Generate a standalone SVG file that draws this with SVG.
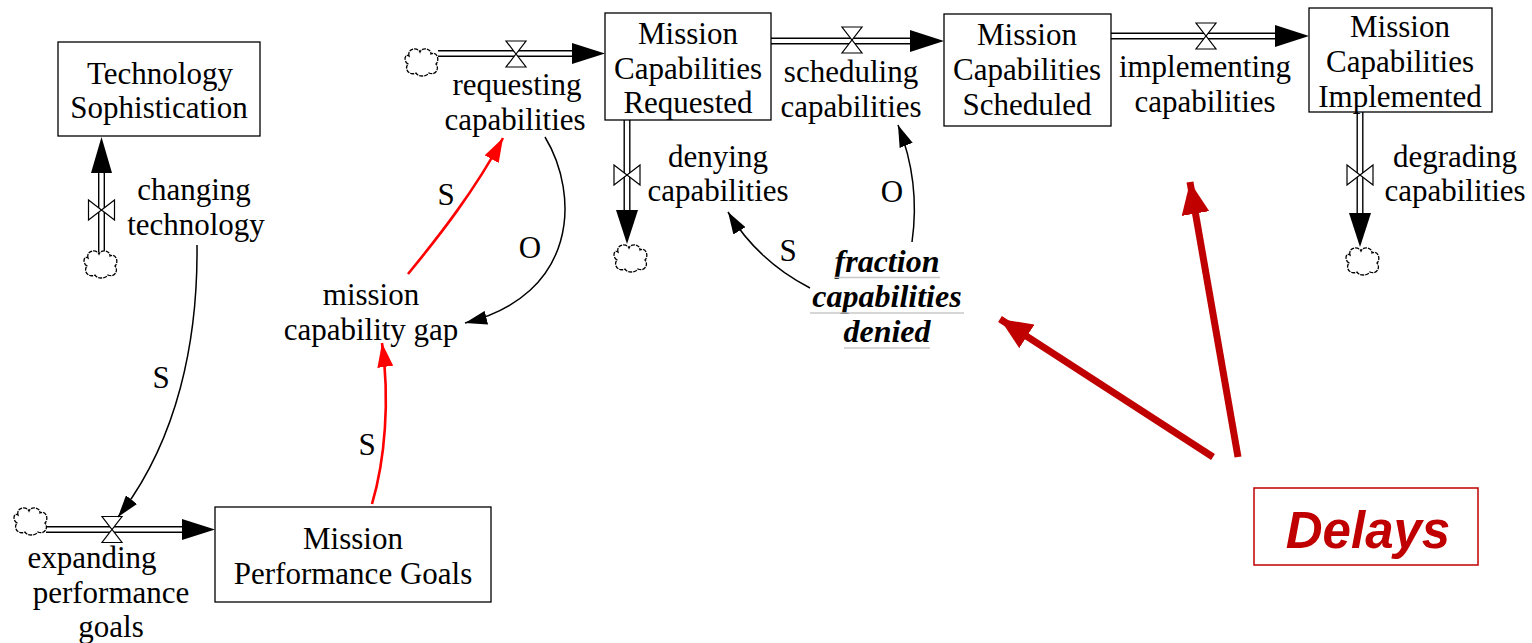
<svg xmlns="http://www.w3.org/2000/svg" width="1532" height="643" viewBox="0 0 1532 643">
<style>
.t{font-family:"Liberation Serif","Times New Roman",serif;font-size:31px;fill:#000;text-anchor:middle}
.bi{font-weight:bold;font-style:italic;font-size:32px}
.box{fill:#fff;stroke:#000;stroke-width:1.3}
.pipeo{stroke:#000;stroke-width:7;fill:none}
.pipei{stroke:#fff;stroke-width:4.2;fill:none}
.valve{fill:#fff;stroke:#000;stroke-width:1.2}
.cloud{fill:#fff;stroke:#000;stroke-width:1.3;stroke-dasharray:4 1}
.link{fill:none;stroke:#000;stroke-width:1.5}
.rlink{fill:none;stroke:#ff0000;stroke-width:2.6}
.big{fill:none;stroke:#c00000;stroke-width:7}
.ul{stroke:#c8c8c8;stroke-width:1.5}
</style>
<defs>
<path id="cl" class="cloud" d="M-13,-6 C-15,-14 -4,-15 -2,-10 C0,-15 9,-14 9,-8 C15,-11 18,-2 14,2 C18,7 13,14 7,11 C4,15 -4,15 -6,11 C-13,14 -18,7 -14,2 C-19,-1 -17,-9 -13,-6 Z"/>
<g id="vh"><path class="valve" d="M-10,-13 L10,-13 L0,0 Z M-10,13 L10,13 L0,0 Z"/></g>
<g id="vv"><path class="valve" d="M-13,-10 L-13,10 L0,0 Z M13,-10 L13,10 L0,0 Z"/></g>
<marker id="ab" viewBox="0 0 22 14" refX="22" refY="7" markerWidth="22" markerHeight="14" markerUnits="userSpaceOnUse" orient="auto"><path d="M0,0 L22,7 L0,14 Z" fill="#000"/></marker>
<marker id="ar" viewBox="0 0 24 16" refX="24" refY="8" markerWidth="24" markerHeight="16" markerUnits="userSpaceOnUse" orient="auto"><path d="M0,0 L24,8 L0,16 Z" fill="#ff0000"/></marker>
<marker id="ad" viewBox="0 0 32 28" refX="32" refY="14" markerWidth="32" markerHeight="28" markerUnits="userSpaceOnUse" orient="auto"><path d="M0,0 L32,14 L0,28 Z" fill="#c00000"/></marker>
</defs>
<rect width="1532" height="643" fill="#fff"/>

<g id="flows">
 <path class="pipeo" d="M438,53.5 H575"/><path class="pipei" d="M438,53.5 H576"/>
 <path d="M572,43 L605,53.5 L572,64 Z"/>
 <use href="#vh" x="516" y="54"/>
 <path class="pipeo" d="M771,41 H912"/><path class="pipei" d="M771,41 H913"/>
 <path d="M910,30 L944,41 L910,52 Z"/>
 <use href="#vh" x="852" y="40"/>
 <path class="pipeo" d="M1111,36 H1278"/><path class="pipei" d="M1111,36 H1279"/>
 <path d="M1275,25 L1309,36 L1275,47 Z"/>
 <use href="#vh" x="1206" y="36"/>
 <path class="pipeo" d="M627,120 V212"/><path class="pipei" d="M627,120 V213"/>
 <path d="M616,210 L627,244 L638,210 Z"/>
 <use href="#vv" x="627" y="175"/>
 <path class="pipeo" d="M1360,112 V215"/><path class="pipei" d="M1360,112 V216"/>
 <path d="M1349,213 L1360,247 L1371,213 Z"/>
 <use href="#vv" x="1360" y="175"/>
 <path class="pipeo" d="M101.5,252 V171"/><path class="pipei" d="M101.5,252 V170"/>
 <path d="M91,173 L101.5,137 L112,173 Z"/>
 <use href="#vv" x="101.5" y="210"/>
 <path class="pipeo" d="M46,529.5 H184"/><path class="pipei" d="M46,529.5 H185"/>
 <path d="M182,519 L215,529.5 L182,540 Z"/>
 <use href="#vh" x="112" y="529.5"/>
</g>

<g id="clouds">
 <use href="#cl" x="422" y="62"/>
 <use href="#cl" x="101" y="264"/>
 <use href="#cl" x="31" y="521"/>
 <use href="#cl" x="631" y="258"/>
 <use href="#cl" x="1363" y="261"/>
</g>

<g id="node-tech"><rect class="box" x="58" y="42" width="202" height="94"/>
 <text class="t" x="160" y="84">Technology</text><text class="t" x="159" y="118">Sophistication</text></g>
<g id="node-requested"><rect class="box" x="605" y="13" width="166" height="107"/>
 <text class="t" x="688" y="44">Mission</text><text class="t" x="688" y="79">Capabilities</text><text class="t" x="688" y="113">Requested</text></g>
<g id="node-scheduled"><rect class="box" x="944" y="14" width="167" height="112"/>
 <text class="t" x="1027" y="45">Mission</text><text class="t" x="1027" y="80">Capabilities</text><text class="t" x="1027" y="115">Scheduled</text></g>
<g id="node-implemented"><rect class="box" x="1309" y="8" width="183" height="104"/>
 <text class="t" x="1400" y="37">Mission</text><text class="t" x="1400" y="72">Capabilities</text><text class="t" x="1400" y="107">Implemented</text></g>
<g id="node-goals"><rect class="box" x="215" y="507" width="276" height="95"/>
 <text class="t" x="353" y="549">Mission</text><text class="t" x="353" y="584">Performance Goals</text></g>

<g id="label-requesting"><text class="t" x="517" y="95">requesting</text><text class="t" x="515" y="130">capabilities</text></g>
<g id="label-scheduling"><text class="t" x="851" y="82">scheduling</text><text class="t" x="851" y="117">capabilities</text></g>
<g id="label-implementing"><text class="t" x="1205" y="77">implementing</text><text class="t" x="1205" y="112">capabilities</text></g>
<g id="label-denying"><text class="t" x="718" y="167">denying</text><text class="t" x="718" y="201">capabilities</text></g>
<g id="label-degrading"><text class="t" x="1455" y="167">degrading</text><text class="t" x="1455" y="201">capabilities</text></g>
<g id="label-changing"><text class="t" x="194" y="200">changing</text><text class="t" x="196" y="235">technology</text></g>
<g id="label-expanding"><text class="t" x="92" y="568">expanding</text><text class="t" x="111" y="603">performance</text><text class="t" x="111" y="637">goals</text></g>
<g id="node-gap"><text class="t" x="371" y="305">mission</text><text class="t" x="371" y="340">capability gap</text></g>
<g id="node-fraction">
 <text class="t bi" x="887" y="272">fraction</text><text class="t bi" x="887" y="307">capabilities</text><text class="t bi" x="887" y="342">denied</text>
 <line class="ul" x1="834" y1="277.5" x2="940" y2="277.5"/><line class="ul" x1="810" y1="313" x2="964" y2="313"/><line class="ul" x1="844" y1="348" x2="930" y2="348"/>
</g>

<g id="connectors">
 <path class="link" d="M197,245 C198,340 178,440 118,517" marker-end="url(#ab)"/>
 <path class="rlink" d="M372,504 C385,460 390,400 382,343" marker-end="url(#ar)"/>
 <path class="rlink" d="M408,274 C440,235 475,190 503,138" marker-end="url(#ar)"/>
 <path class="link" d="M545,137 C580,195 578,295 465,323" marker-end="url(#ab)"/>
 <path class="link" d="M912,242 C918,200 912,160 898,125" marker-end="url(#ab)"/>
 <path class="link" d="M810,288 C775,270 748,245 728,212" marker-end="url(#ab)"/>
 <path class="big" d="M1213,457 L1000,319" marker-end="url(#ad)"/>
 <path class="big" d="M1238,457 L1190,182" marker-end="url(#ad)"/>
</g>
<g id="polarities">
 <text class="t" x="161" y="388">S</text>
 <text class="t" x="446" y="205">S</text>
 <text class="t" x="367" y="455">S</text>
 <text class="t" x="530" y="258">O</text>
 <text class="t" x="788" y="261">S</text>
 <text class="t" x="892" y="202">O</text>
</g>

<g id="node-delays"><rect x="1254" y="488" width="224" height="77" fill="#fff" stroke="#c00000" stroke-width="1.5"/>
 <text x="1368" y="548" font-family="'Liberation Sans',Arial,sans-serif" font-size="51" font-weight="bold" font-style="italic" fill="#c00000" text-anchor="middle">Delays</text></g>
</svg>
